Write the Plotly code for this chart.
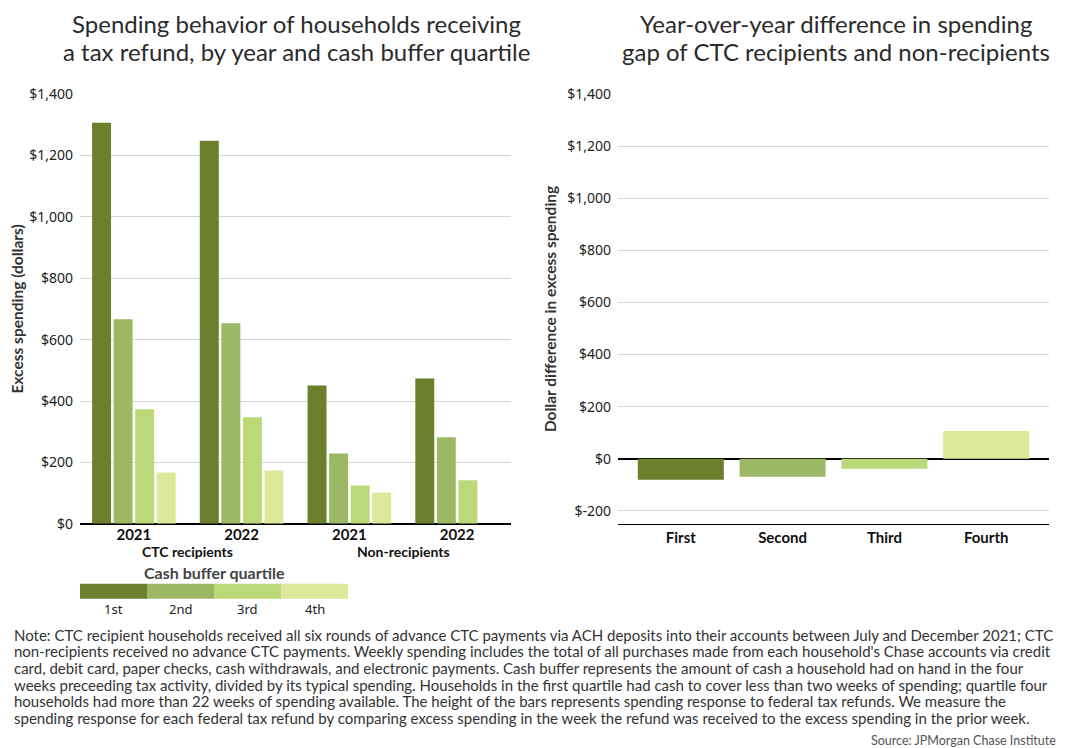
import plotly.graph_objects as go

# left chart data
groups = ["CTC 2021", "CTC 2022", "Non 2021", "Non 2022"]
group_years = ["2021", "2022", "2021", "2022"]
quartiles = ["1st", "2nd", "3rd", "4th"]
q1 = [1306, 1248, 451, 473]
q2 = [666, 653, 229, 282]
q3 = [373, 347, 125, 142]
q4 = [167, 174, 102, None]

# right chart data
diff_labels = ["First", "Second", "Third", "Fourth"]
diff_values = [-81, -69, -38, 106]

colors = ["#6b7f2c", "#9db865", "#bcd979", "#dde89a"]

left_ticks = [0, 200, 400, 600, 800, 1000, 1200, 1400]
right_ticks = [-200, 0, 200, 400, 600, 800, 1000, 1200, 1400]

left_title = ["Spending behavior of households receiving",
              "a tax refund, by year and cash buffer quartile"]
right_title = ["Year-over-year difference in spending",
               "gap of CTC recipients and non-recipients"]

note_lines = [
    "Note: CTC recipient households received all six rounds of advance CTC payments via ACH deposits into their accounts between July and December 2021; CTC",
    "non-recipients received no advance CTC payments. Weekly spending includes the total of all purchases made from each household's Chase accounts via credit",
    "card, debit card, paper checks, cash withdrawals, and electronic payments. Cash buffer represents the amount of cash a household had on hand in the four",
    "weeks preceeding tax activity, divided by its typical spending. Households in the first quartile had cash to cover less than two weeks of spending; quartile four",
    "households had more than 22 weeks of spending available. The height of the bars represents spending response to federal tax refunds. We measure the",
    "spending response for each federal tax refund by comparing excess spending in the week the refund was received to the excess spending in the prior week.",
]

narrow = "Lato, Roboto, sans-serif"
tickfont = "Noto Sans, sans-serif"

fig = go.Figure()

for name, vals, c in zip(quartiles, [q1, q2, q3, q4], colors):
    fig.add_trace(go.Bar(x=groups, y=vals, name=name, marker_color=c,
                         marker_line_width=0, xaxis="x", yaxis="y"))

fig.add_trace(go.Bar(x=diff_labels, y=diff_values, marker_color=colors,
                     marker_line_width=0, xaxis="x2", yaxis="y2", width=0.845))

# positions below are given in screenshot pixels; the figure lands at (8, 17)
# on the page and comes out a little squashed vertically, so correct for that
W, H = 1054, 752
def px(x):
    return (x - 8) / W
def py(y):
    return 1 - ((y - 17) / 0.975) / H

fig.update_layout(
    width=W, height=H,
    margin=dict(l=0, r=0, t=0, b=0),
    paper_bgcolor="white", plot_bgcolor="white",
    showlegend=False,
    barmode="group", bargap=0.2, bargroupgap=0.12,
    font=dict(family=tickfont, color="#222", size=14),
    xaxis=dict(domain=[px(80), px(511)], anchor="y",
               tickvals=groups, ticktext=["<b>%s</b>" % g for g in group_years],
               tickfont=dict(family=narrow, size=15, color="#111"),
               showline=False, ticks=""),
    yaxis=dict(domain=[py(523), py(93)], anchor="x", range=[0, 1400],
               tickvals=left_ticks, ticktext=["$%s" % format(v, ",") for v in left_ticks],
               ticklabelstandoff=6,
               gridcolor="#d6d6d6", zeroline=True, zerolinecolor="#000", zerolinewidth=1.5,
               title=dict(text="<b>Excess spending (dollars)</b>", standoff=6,
                          font=dict(family=narrow, size=15.5, color="#333"))),
    xaxis2=dict(domain=[px(618), px(1049)], anchor="y2", range=[-0.617, 3.617],
                tickvals=diff_labels, ticktext=["<b>%s</b>" % d for d in diff_labels],
                tickfont=dict(family=narrow, size=15, color="#111"),
                showline=True, linecolor="#000", linewidth=1, ticks=""),
    yaxis2=dict(domain=[py(523), py(93)], anchor="x2", range=[-250, 1400],
                tickvals=right_ticks, ticktext=["$%s" % format(v, ",") for v in right_ticks],
                ticklabelstandoff=6,
                gridcolor="#d6d6d6", zeroline=True, zerolinecolor="#000", zerolinewidth=2,
                title=dict(text="<b>Dollar difference in excess spending</b>", standoff=6,
                           font=dict(family=narrow, size=15.5, color="#333"))),
)

annotations = []
for cx, lines in [(296, left_title), (836, right_title)]:
    for i, t in enumerate(lines):
        annotations.append(dict(text=t, x=px(cx), y=py(23 + i * 28), xref="paper", yref="paper",
                                xanchor="center", yanchor="middle", showarrow=False,
                                font=dict(family=narrow, size=24, color="#2b2b2b")))

annotations += [
    dict(text="<b>CTC recipients</b>", x=0.5, y=py(551), xref="x", yref="paper",
         xanchor="center", showarrow=False, yanchor="middle",
         font=dict(family=narrow, size=14, color="#111")),
    dict(text="<b>Non-recipients</b>", x=2.5, y=py(551), xref="x", yref="paper",
         xanchor="center", showarrow=False, yanchor="middle",
         font=dict(family=narrow, size=14, color="#111")),
    dict(text="<b>Cash buffer quartile</b>", x=px(214), y=py(572), xref="paper", yref="paper",
         xanchor="center", showarrow=False, yanchor="middle",
         font=dict(family=narrow, size=16, color="#444")),
]

for i, line in enumerate(note_lines):
    annotations.append(dict(text=line, x=px(12), y=py(634 + i * 16.6), xref="paper", yref="paper",
                            xanchor="left", yanchor="middle", align="left", showarrow=False,
                            font=dict(family=narrow, size=15, color="#333")))
annotations.append(dict(text="Source: JPMorgan Chase Institute", x=px(1058), y=py(740),
                        xref="paper", yref="paper", xanchor="right", yanchor="middle",
                        showarrow=False, font=dict(family=narrow, size=12.5, color="#555")))

# custom legend swatches
shapes = []
x0, bw = 80, 67
for i, (lab, c) in enumerate(zip(quartiles, colors)):
    shapes.append(dict(type="rect", xref="paper", yref="paper", line_width=0, fillcolor=c,
                       x0=px(x0 + i * bw), x1=px(x0 + (i + 1) * bw), y0=py(598), y1=py(583)))
    annotations.append(dict(text=lab, x=px(x0 + i * bw + bw / 2), y=py(608), xref="paper",
                            yref="paper", xanchor="center", showarrow=False, yanchor="middle",
                            font=dict(family=tickfont, size=13, color="#222")))

fig.update_layout(annotations=annotations, shapes=shapes)

fig.write_html("out.html")
